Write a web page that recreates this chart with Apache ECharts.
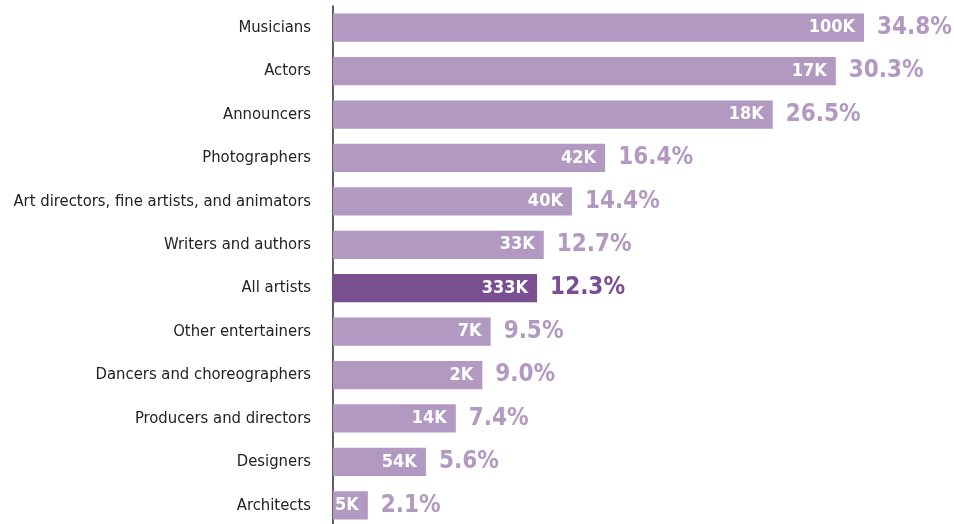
<!DOCTYPE html>
<html>
<head>
<meta charset="utf-8">
<script src="https://cdn.jsdelivr.net/npm/echarts@6/dist/echarts.min.js"></script>
<style>html,body{margin:0;padding:0;background:#fff}#c{width:954px;height:524px}</style>
</head>
<body>
<div id="c"></div>
<script>
const categories = ["Musicians","Actors","Announcers","Photographers","Art directors, fine artists, and animators","Writers and authors","All artists","Other entertainers","Dancers and choreographers","Producers and directors","Designers","Architects"];
const shares = [34.8,30.3,26.5,16.4,14.4,12.7,12.3,9.5,9.0,7.4,5.6,2.1];
const counts = ["100K","17K","18K","42K","40K","33K","333K","7K","2K","14K","54K","5K"];
const highlight = "All artists";

const LIGHT = '#b299c1', DARK = '#7a4f91';
const FONT = '"DejaVu Sans Condensed", "Liberation Sans Narrow", sans-serif';

const chart = echarts.init(document.getElementById('c'), null, {renderer:'canvas'});
const colorOf = i => categories[i] === highlight ? DARK : LIGHT;

chart.setOption({
  animation: false,
  grid: {left: 333, top: 6, width: 531, height: 521, containLabel: false, outerBoundsMode: 'none'},
  xAxis: {type: 'value', min: 0, max: 32, show: false},
  yAxis: {
    type: 'category', data: categories, inverse: true,
    axisLine: {show: true, lineStyle: {color: '#2a2a2a', width: 1.5}},
    axisTick: {show: false},
    axisLabel: {color: '#222', fontFamily: FONT, fontSize: 16.5, margin: 22}
  },
  series: [
    {
      type: 'bar', barWidth: '65%', clip: true,
      data: shares.map((v, i) => ({value: v, itemStyle: {color: colorOf(i)}})),
      label: {
        show: true, position: 'insideRight', distance: 9,
        color: '#fff', fontFamily: FONT, fontWeight: 'bold', fontSize: 18,
        formatter: p => counts[p.dataIndex]
      }
    },
    {
      type: 'bar', barWidth: '65%', barGap: '-100%', clip: true, silent: true,
      data: shares.map((v, i) => ({value: v, itemStyle: {color: 'rgba(0,0,0,0)'},
        label: {color: colorOf(i)}})),
      label: {
        show: true, position: 'right', distance: 13,
        fontFamily: FONT, fontWeight: 'bold', fontSize: 24,
        formatter: p => shares[p.dataIndex].toFixed(1) + '%'
      }
    }
  ]
});
</script>
</body>
</html>
